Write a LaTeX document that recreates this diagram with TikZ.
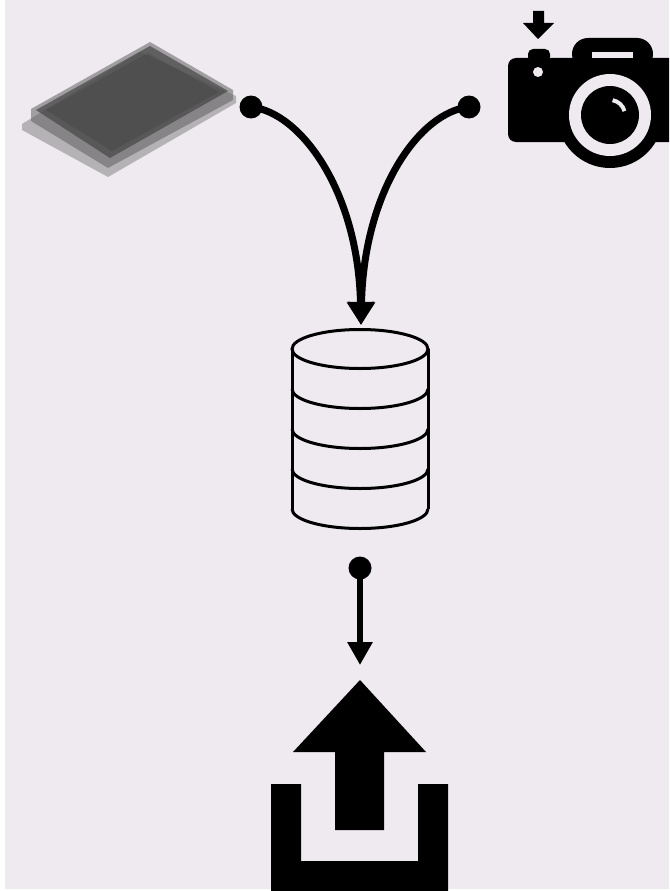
\documentclass[tikz,border=0pt]{standalone}
\usetikzlibrary{arrows.meta}
\definecolor{bgpaper}{RGB}{238,234,239}
\begin{document}
\begin{tikzpicture}[x=1pt,y=-1pt,
  flow/.style={line width=7pt, -{Triangle[length=23pt,width=26pt]}},
  drop/.style={line width=6.5pt, -{Triangle[length=23pt,width=24pt]}},
  portdot/.style={fill=black},
  dbline/.style={line width=3pt, black},
  hole/.style={fill=bgpaper}]
\useasboundingbox (0,0) rectangle (669,891);
\fill[white] (0,0) rectangle (669,891);
\fill[bgpaper] (5,0) rectangle (669,889);

% named anchors of the flow
\coordinate (plateout) at (251,107);
\coordinate (camout) at (469,107);
\coordinate (dbin) at (361,325);
\coordinate (dbout) at (360,568);
\coordinate (upin) at (360,665);

% ---- microplate (translucent grey box)
\fill[gray!75!black, opacity=0.4] (22,124) -- (140,52) -- (236,96) -- (236,103) -- (108,177) -- (22,130) -- cycle;
\fill[gray!75!black, opacity=0.55] (31,109) -- (150,42) -- (233,90) -- (233,100) -- (108,168) -- (31,121) -- cycle;
\fill[gray!55!black, opacity=0.7] (36,110) -- (150,46) -- (228,91) -- (110,158) -- cycle;
\fill[black, opacity=0.1] (46,110) -- (148,53) -- (219,92) -- (112,151) -- cycle;

% ---- camera
\begin{scope}
\clip (0,0) rectangle (669,891);
\fill[rounded corners=8pt] (508,58) rectangle (700,142);
\fill[rounded corners=16pt] (572,38) rectangle (653,70);
\fill[rounded corners=5pt] (528,49) rectangle (550,62);
\fill (610,115) circle (53);
\fill[hole] (610,115) circle (41);
\fill (610,115) circle (29);
\fill[hole] (538,72) circle (5);
\fill[hole] (592,52) rectangle (633,58);
\draw[bgpaper, line width=4pt] (610,115) ++(-80:15) arc[start angle=-80, end angle=-15, radius=15];
\end{scope}
% shutter arrow
\fill (533,11) -- (544,11) -- (544,23) -- (554,23) -- (538,39) -- (523,23) -- (533,23) -- cycle;

% ---- database cylinder
\draw[dbline] (360,349) ellipse [x radius=68, y radius=19.5];
\draw[dbline] (292,349) -- (292,509);
\draw[dbline] (428,349) -- (428,509);
\foreach \yc in {389,429,469,509}
  \draw[dbline] (292,\yc) arc[start angle=180, end angle=0, x radius=68, y radius=19.5];

% ---- upload icon
\fill (360,680) -- (426,752) -- (384,752) -- (384,830) -- (335,830) -- (335,752) -- (293,752) -- cycle;
\fill (271,784) -- (301,784) -- (301,861) -- (418,861) -- (418,784) -- (448,784) -- (448,891) -- (271,891) -- cycle;

% ---- connectors
\draw[flow] (plateout) .. controls (300,112) and (358,190) .. (dbin);
\draw[flow] (camout) .. controls (420,112) and (364,190) .. (dbin);
\fill[portdot] (plateout) circle (11.5);
\fill[portdot] (camout) circle (11.5);
\fill[portdot] (dbout) circle (11.5);
\draw[drop] (dbout) -- (upin);
\end{tikzpicture}
\end{document}
